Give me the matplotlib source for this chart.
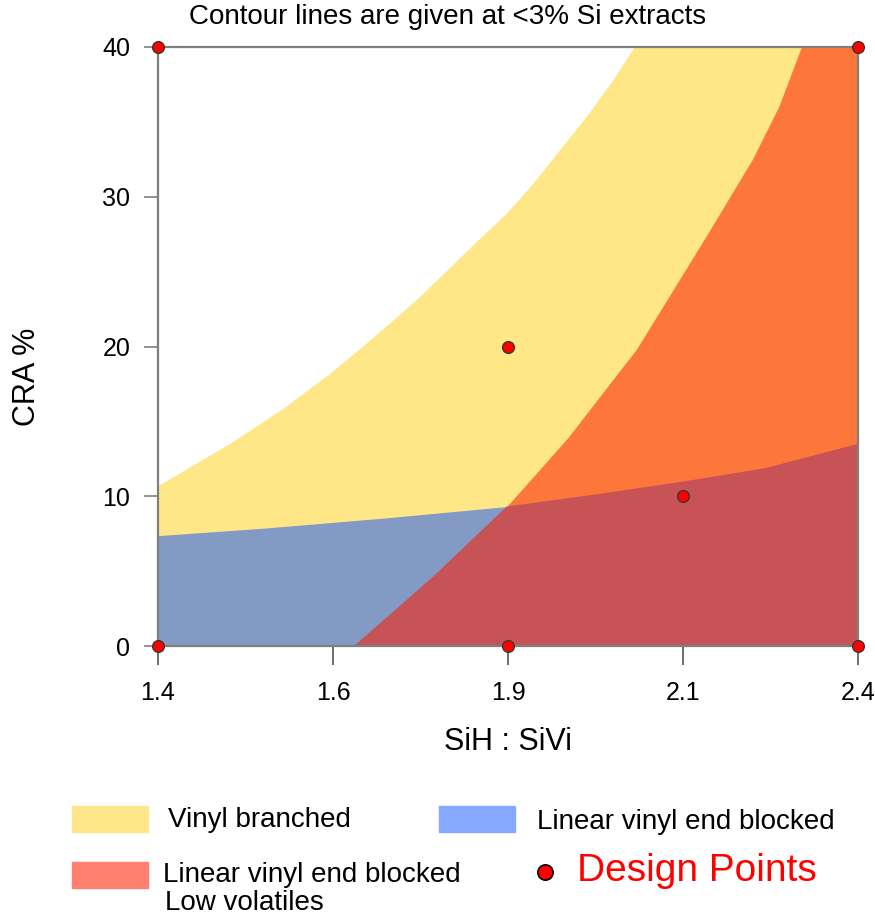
import numpy as np
import matplotlib.pyplot as plt
from matplotlib.patches import Rectangle
from matplotlib.lines import Line2D

plt.rcParams['font.family'] = ['Liberation Sans', 'DejaVu Sans']

# contour boundaries (SiH:SiVi, CRA %)
upper_x = [1.40, 1.503, 1.579, 1.646, 1.703, 1.769, 1.860, 1.898, 1.936, 1.974, 2.012, 2.050, 2.080]
upper_y = [10.72, 13.55, 15.89, 18.23, 20.45, 23.13, 27.25, 28.92, 30.93, 33.16, 35.38, 37.83, 40.0]

edge_x = [1.680, 1.793, 1.898, 1.985, 2.031, 2.083, 2.130, 2.180, 2.249, 2.287, 2.319]
edge_y = [0.0, 4.63, 9.31, 13.88, 16.66, 19.79, 23.35, 27.14, 32.49, 36.05, 40.0]

lower_x = [1.40, 1.551, 1.722, 1.898, 2.031, 2.15, 2.268, 2.40]
lower_y = [7.37, 7.87, 8.54, 9.31, 10.16, 10.98, 11.88, 13.50]

design_x = [1.4, 1.4, 1.9, 1.9, 2.15, 2.4, 2.4]
design_y = [0, 40, 0, 20, 10, 0, 40]

xticks = [1.4, 1.65, 1.9, 2.15, 2.4]
xtick_labels = ['1.4', '1.6', '1.9', '2.1', '2.4']
yticks = [0, 10, 20, 30, 40]

c_yellow = '#FFE788'
c_orange = '#FD773B'
c_red = '#C85356'
c_blue = '#839BC4'

fig = plt.figure(figsize=(8.75, 9.15), dpi=100)
ax = fig.add_axes([158 / 875, 1 - 646 / 915, 700 / 875, 599 / 915])

x0, x1 = xticks[0], xticks[-1]
y0, y1 = yticks[0], yticks[-1]

# vinyl branched (everything below the upper contour)
ax.fill_between(np.append(upper_x, x1), y0, np.append(upper_y, y1),
                color=c_yellow, lw=0)
# linear vinyl end blocked
ax.fill_between(lower_x, y0, lower_y, color=c_blue, lw=0)
# low volatiles region right of the edge contour
ax.fill_betweenx(edge_y, edge_x, x1, color=c_orange, lw=0)
# overlap: right of edge and below lower contour
ex = np.array(edge_x)
ey = np.array(edge_y)
lx = np.array(lower_x)
ly = np.array(lower_y)
cross = 1.898
keep_e = ey <= ly[lx >= cross][0]
poly_x = np.concatenate([ex[keep_e], lx[lx > cross], [x1]])
poly_y = np.concatenate([ey[keep_e], ly[lx > cross], [y0]])
ax.fill(poly_x, poly_y, color=c_red, lw=0)

ax.plot(design_x, design_y, 'o', ms=8.5, mfc='#FF0000', mec='#333333',
        mew=0.9, clip_on=False, zorder=5)

ax.set_xlim(x0, x1)
ax.set_ylim(y0, y1)
ax.set_xticks(xticks)
ax.set_xticklabels(xtick_labels)
ax.set_yticks(yticks)
for s in ax.spines.values():
    s.set_color('#7f7f7f')
    s.set_linewidth(1.6)
ax.tick_params(axis='x', length=14, width=1.2, color='#555555', pad=11,
               labelsize=18)
ax.tick_params(axis='y', length=10, width=1.2, color='#7f7f7f', pad=10,
               labelsize=18)

ax.set_xlabel('SiH : SiVi', fontsize=22)
ax.xaxis.set_label_coords(0.5, -0.135)
ax.set_ylabel('CRA %', fontsize=22)
ax.yaxis.set_label_coords(-0.166, 0.45)

fig.text(448 / 875, 1 - 17 / 915, 'Contour lines are given at <3% Si extracts',
         ha='center', va='center', fontsize=20)

# legend drawn by hand
def fy(py):
    return 1 - py / 915

fig.patches.append(Rectangle((72 / 875, fy(832)), 76 / 875, 26 / 915,
                             transform=fig.transFigure, color='#FFE68A'))
fig.patches.append(Rectangle((439 / 875, fy(832)), 76 / 875, 26 / 915,
                             transform=fig.transFigure, color='#86A8FF'))
fig.patches.append(Rectangle((72 / 875, fy(888)), 76 / 875, 26 / 915,
                             transform=fig.transFigure, color='#FF8070'))
fig.text(168 / 875, fy(820), 'Vinyl branched', fontsize=20, va='center')
fig.text(537 / 875, fy(822), 'Linear vinyl end blocked', fontsize=20, va='center')
fig.text(163 / 875, fy(875), 'Linear vinyl end blocked', fontsize=20, va='center')
fig.text(165 / 875, fy(903), 'Low volatiles', fontsize=20, va='center')
fig.lines.append(Line2D([545 / 875], [fy(872)], marker='o', ms=11,
                        mfc='#FF0000', mec='black', mew=1.2,
                        transform=fig.transFigure))
fig.text(577 / 875, fy(871), 'Design Points', fontsize=28, color='#FF0000',
         va='center')

fig.savefig('out.png', dpi=100)
